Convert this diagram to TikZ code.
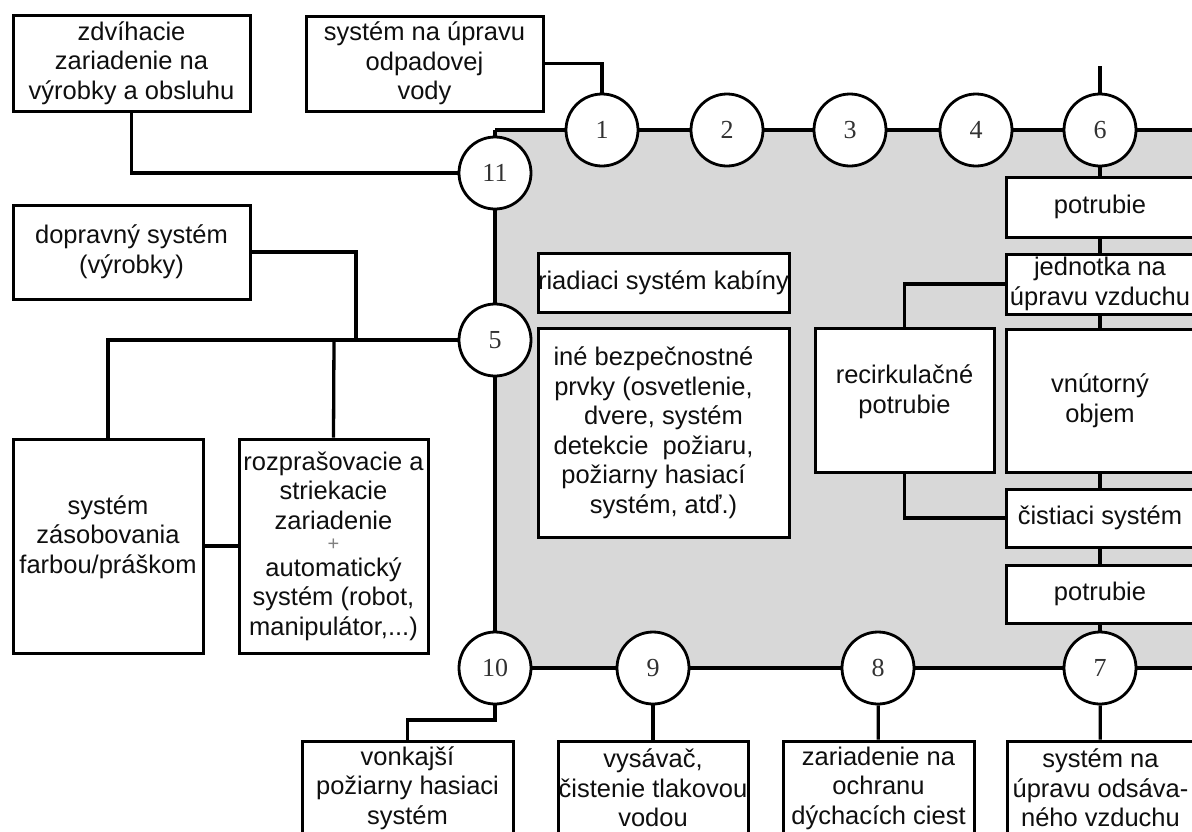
\documentclass[tikz,border=0pt]{standalone}
\usepackage{fontspec}
\setmainfont{Liberation Sans}
\newfontfamily\numfont{Liberation Serif}
\usetikzlibrary{backgrounds}
\definecolor{cabin}{RGB}{216,216,216}
\definecolor{numgray}{RGB}{50,50,50}
\definecolor{txt}{RGB}{15,15,15}
\begin{document}
\begin{tikzpicture}[x=1pt,y=-1pt,
  box/.style={draw, fill=white, rectangle, inner sep=0pt, line width=3pt, align=center, text=txt, font=\fontsize{25.5}{29.5}\selectfont},
  port/.style={draw, fill=white, circle, minimum size=72pt, inner sep=0pt, line width=2.8pt, text=numgray, font=\numfont\fontsize{26}{26}\selectfont},
  wire/.style={line width=3.3pt}]
\useasboundingbox (0,0) rectangle (1192,831);

% ports
\node[port] (c1) at (602,130) {1};
\node[port] (c2) at (727,130) {2};
\node[port] (c3) at (850,130) {3};
\node[port] (c4) at (976,130) {4};
\node[port] (c6) at (1100,130) {6};
\node[port] (c11) at (495,173) {11};
\node[port] (c5) at (495,340) {5};
\node[port] (c10) at (495,668) {10};
\node[port] (c9) at (653,668) {9};
\node[port] (c8) at (878,668) {8};
\node[port] (c7) at (1100,668) {7};

\coordinate (tl) at (495,130);
\coordinate (tr) at (1200,130);
\coordinate (br) at (1200,668);
\coordinate (c6top) at (1100,66);
\coordinate (j1) at (356,340);
\coordinate (j2) at (334,340);
\coordinate (jv) at (495,720);

% outer boxes
\node[box, minimum width=237pt, minimum height=96pt] (zdvih) at (131.5,63) {zdvíhacie\\zariadenie na\\výrobky a obsluhu};
\node[box, minimum width=237pt, minimum height=95pt] (odpad) at (424.5,63.5) {systém na úpravu\\odpadovej\\vody};
\node[box, minimum width=237pt, minimum height=94pt] (doprav) at (131.5,252) {dopravný systém\\(výrobky)};
\node[box, minimum width=190pt, minimum height=214pt,
      label={[align=center, text=txt, font=\fontsize{25.5}{29.5}\selectfont, yshift=9pt]center:systém\\zásobovania\\farbou/práškom}] (zasob) at (108,546) {};
\node[box, minimum width=189pt, minimum height=214pt] (rozpr) at (333.5,546) {rozprašovacie a\\striekacie\\zariadenie\\[-8pt]{\fontsize{20}{20}\selectfont\color{gray}+}\\[-4pt]automatický\\systém (robot,\\manipulátor,...)};

% inner boxes
\node[box, minimum width=251pt, minimum height=59pt] (riad) at (663.5,282.5) {riadiaci systém kabíny};
\node[box, minimum width=251pt, minimum height=209pt] (ine) at (663.5,432.5) {iné bezpečnostné\kern20pt\\prvky (osvetlenie,\kern20pt\\dvere, systém\\detekcie\ \ požiaru,\kern20pt\\požiarny hasiací\kern20pt\\systém, atď.)};
\node[box, minimum width=179pt, minimum height=144pt] (recirk) at (904.5,400) {recirkulačné\\potrubie\\[-8pt]\mbox{}};
\node[box, minimum width=188pt, minimum height=143pt] (vnut) at (1100,400.5) {vnútorný\\objem};
\node[box, minimum width=188pt, minimum height=60pt] (potr1) at (1100,207) {potrubie};
\node[box, minimum width=188pt, minimum height=60pt] (jedn) at (1100,284) {jednotka na\\úpravu vzduchu};
\node[box, minimum width=188pt, minimum height=58pt] (cist) at (1100,518) {čistiaci systém};
\node[box, minimum width=188pt, minimum height=58pt] (potr2) at (1100,594) {potrubie};

% bottom boxes
\node[box, minimum width=211pt, minimum height=94pt] (vonk) at (407.5,788) {vonkajší\\požiarny hasiaci\\systém};
\node[box, minimum width=190pt, minimum height=94pt] (vysav) at (653,788) {vysávač,\\čistenie tlakovou\\vodou};
\node[box, minimum width=191pt, minimum height=94pt] (dych) at (878.5,788) {zariadenie na\\ochranu\\dýchacích ciest};
\node[box, minimum width=187pt, minimum height=94pt] (odsav) at (1100.5,788) {systém na\\úpravu odsáva-\\ného vzduchu};

\begin{scope}[on background layer]
\fill[cabin] (495,130) rectangle (1200,668);
\draw[wire] (tl) -- (c1);
\draw[wire] (c1) -- (c2);
\draw[wire] (c2) -- (c3);
\draw[wire] (c3) -- (c4);
\draw[wire] (c4) -- (c6);
\draw[wire] (c6) -- (tr);
\draw[wire] (c6top) -- (c6);
\draw[wire] (tl) -- (c11);
\draw[wire] (c11) -- (c5);
\draw[wire] (c5) -- (c10);
\draw[wire] (c10) -- (c9);
\draw[wire] (c9) -- (c8);
\draw[wire] (c8) -- (c7);
\draw[wire] (c7) -- (br);
\draw[wire] (odpad.east) -| (c1);
\draw[wire] (zdvih.south) |- (c11);
\draw[wire] (doprav.east) -| (j1);
\draw[wire] (c5) -| (zasob.north);
\draw[wire] (j2) -- (rozpr.north);
\draw[wire] (zasob.east) -- (rozpr.west);
\draw[wire] (c6) -- (potr1);
\draw[wire] (potr1) -- (jedn);
\draw[wire] (jedn) -- (vnut);
\draw[wire] (vnut) -- (cist);
\draw[wire] (cist) -- (potr2);
\draw[wire] (potr2) -- (c7);
\draw[wire] (jedn.west) -| (recirk.north);
\draw[wire] (recirk.south) |- (cist.west);
\draw[wire] (c10) -- (jv) -| (vonk.north);
\draw[wire] (c9) -- (vysav);
\draw[wire] (c8) -- (dych);
\draw[wire] (c7) -- (odsav);
\end{scope}
\end{tikzpicture}
\end{document}
